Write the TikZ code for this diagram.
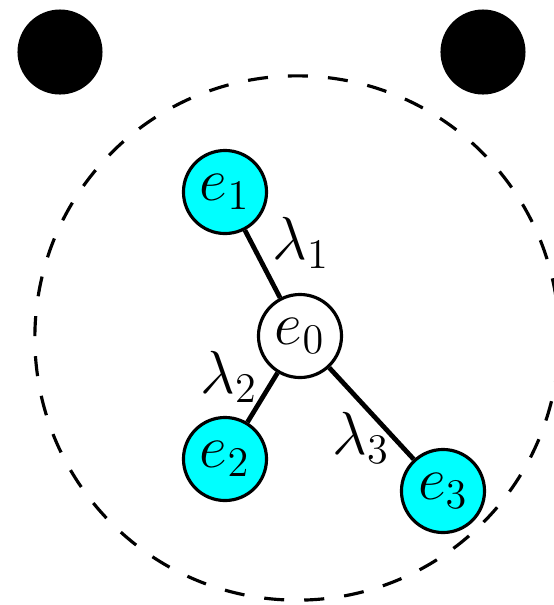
\documentclass[tikz,border=0pt]{standalone}
\usetikzlibrary{positioning}
\definecolor{aqua}{RGB}{0,255,255}

\begin{document}
\begin{tikzpicture}[
  x=0.01cm, y=-0.01cm,
  font=\fontsize{18.5}{22}\selectfont,
  ent/.style={circle, draw=black, line width=0.9pt, fill=aqua,
              minimum size=0.83cm, inner sep=0pt},
  ctr/.style={ent, fill=white},
  blob/.style={circle, fill=black, minimum size=0.85cm, inner sep=0pt},
  ln/.style={line width=1.35pt},
  rng/.style={line width=0.9pt, dash pattern=on 5.7pt off 5.7pt}
]
\useasboundingbox (0,0) rectangle (554,605);

% outer dots and range
\node[blob] (dl) at (60,52)  {};
\node[blob] (dr) at (483,52) {};
\node[circle, rng, draw, minimum size=5.24cm, inner sep=0pt] (rg) at (297,338) {};

% entities
\node[ctr] (e0) at (300,336) {$e_0$};
\node[ent] (e1) at (225,192) {$e_1$};
\node[ent] (e2) at (225,459) {$e_2$};
\node[ent] (e3) at (443,491) {$e_3$};
\draw[ln] (e0) -- (e1);
\draw[ln] (e0) -- (e2);
\draw[ln] (e0) -- (e3);

% weights
\node (l1) at (301,243) {$\lambda_1$};
\node (l2) at (229,377) {$\lambda_2$};
\node (l3) at (361,438) {$\lambda_3$};
\end{tikzpicture}
\end{document}
